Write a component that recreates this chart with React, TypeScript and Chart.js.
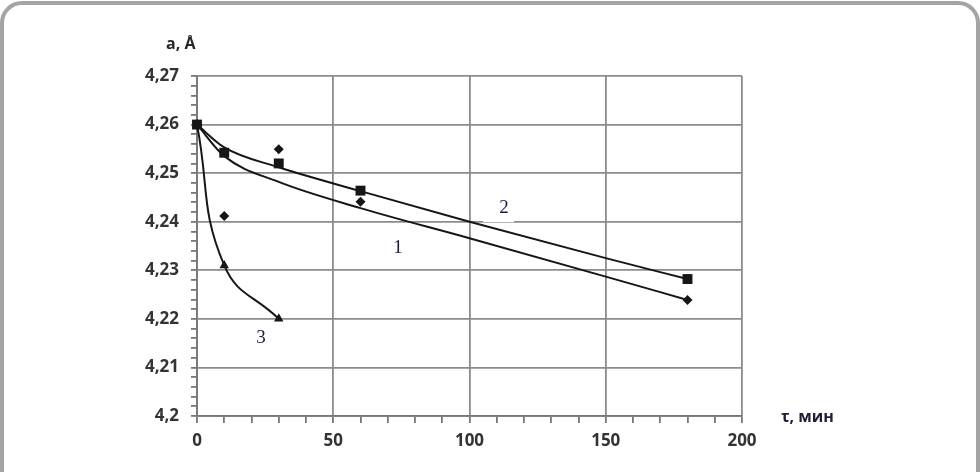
import React, { useEffect, useRef } from 'react';
import { Chart, registerables } from 'chart.js';
Chart.register(...registerables);

// Measured points (τ, min → a, Å)
const times = [0, 10, 30, 60, 180];
const series1 = [4.26, 4.2412, 4.2549, 4.2441, 4.2239]; // diamonds, curve 1
const series2 = [4.26, 4.2542, 4.252, 4.2464, 4.2282]; // squares, curve 2
const times3 = [0, 10, 30];
const series3 = [4.26, 4.231, 4.22]; // triangles, curve 3

// Fitted curves
const curveTimes = [0, 10, 30, 60, 100, 150, 180];
const curve1 = [4.26, 4.2535, 4.2482, 4.2428, 4.2366, 4.2287, 4.2239];
const curve2 = [4.26, 4.2553, 4.2512, 4.2463, 4.24, 4.2325, 4.2282];

// Axis ranges / ticks
const xMin = 0, xMax = 200, xMajor = 50, xMinor = 10;
const yMin = 4.2, yMax = 4.27, yMajor = 0.01, yMinor = 0.002;

// Curve number labels (data coordinates)
const curveLabels = [
  { text: '1', t: 73.8, v: 4.2346, box: false },
  { text: '2', t: 112.7, v: 4.2428, box: true },
  { text: '3', t: 23.5, v: 4.2161, box: false },
];

const GRID = '#8c8c8c';
const AXIS = '#777777';
const INK = '#161616';
const TICKFONT = { family: '"Open Sans", sans-serif', size: 17, weight: 'bold' as any };

const toXY = (xs: number[], ys: number[]) => xs.map((x, i) => ({ x, y: ys[i] }));

const labelPlugin = {
  id: 'curveLabels',
  beforeDatasetsDraw(chart: any) {
    const { ctx, scales } = chart;
    const x = scales.x, y = scales.y;
    ctx.save();
    ctx.font = '19px "Liberation Serif", "Times New Roman", serif';
    ctx.textAlign = 'center';
    ctx.textBaseline = 'middle';
    for (const l of curveLabels) {
      const px = x.getPixelForValue(l.t);
      const py = y.getPixelForValue(l.v);
      if (l.box) {
        ctx.fillStyle = '#ffffff';
        ctx.fillRect(px - 21, py - 11, 31, 25);
      }
      ctx.fillStyle = '#1c1c40';
      ctx.fillText(l.text, px, py);
    }
    ctx.restore();
  },
  afterDraw(chart: any) {
    const { ctx } = chart;
    ctx.save();
    ctx.fillStyle = '#262626';
    ctx.textBaseline = 'middle';
    ctx.textAlign = 'left';
    ctx.font = 'bold 16px "Open Sans", sans-serif';
    ctx.fillText('a, Å', 166, 44);
    ctx.fillStyle = '#1e1e3a';
    ctx.fillText('τ, мин', 781, 417);
    ctx.restore();
  },
};

export default function App() {
  const ref = useRef<HTMLCanvasElement>(null);
  useEffect(() => {
    const isMajorX = (v: number) => Math.abs(v / xMajor - Math.round(v / xMajor)) < 1e-6;
    const isMajorY = (v: number) => Math.abs(v / yMajor - Math.round(v / yMajor)) < 1e-6;
    const chart = new Chart(ref.current!, {
      type: 'scatter',
      data: {
        datasets: [
          {
            label: '1',
            data: toXY(times, series1),
            pointStyle: 'rectRot',
            pointRadius: 5,
            backgroundColor: INK,
            borderColor: INK,
            borderWidth: 0,
            showLine: false,
            clip: false,
          } as any,
          {
            label: '2',
            data: toXY(times, series2),
            pointStyle: 'rect',
            pointRadius: 7,
            backgroundColor: INK,
            borderColor: INK,
            borderWidth: 0,
            showLine: false,
            clip: false,
          } as any,
          {
            label: '3',
            data: toXY(times3, series3),
            pointStyle: 'triangle',
            pointRadius: 5.5,
            backgroundColor: INK,
            borderColor: INK,
            pointBorderWidth: 0,
            borderWidth: 2,
            showLine: true,
            tension: 0.45,
            clip: false,
          } as any,
          {
            label: 'curve1',
            data: toXY(curveTimes, curve1),
            showLine: true,
            pointRadius: 0,
            borderColor: INK,
            borderWidth: 2,
            cubicInterpolationMode: 'monotone',
          } as any,
          {
            label: 'curve2',
            data: toXY(curveTimes, curve2),
            showLine: true,
            pointRadius: 0,
            borderColor: INK,
            borderWidth: 2,
            cubicInterpolationMode: 'monotone',
          } as any,
        ],
      },
      options: {
        responsive: false,
        animation: false,
        devicePixelRatio: 1,
        layout: { padding: { left: 0, top: 76, right: 238, bottom: 0 } },
        plugins: { legend: { display: false }, tooltip: { enabled: false } },
        scales: {
          x: {
            type: 'linear',
            min: xMin,
            max: xMax,
            afterFit: (s: any) => { s.height = 56; },
            border: { color: AXIS, width: 1.8 },
            grid: {
              color: (c: any) => (c.tick && isMajorX(c.tick.value) ? GRID : 'rgba(0,0,0,0)'),
              tickColor: AXIS,
              lineWidth: 1.8,
              tickLength: 7,
              drawTicks: true,
            },
            ticks: {
              stepSize: xMinor,
              autoSkip: false,
              maxRotation: 0,
              padding: 8,
              color: '#333333',
              font: TICKFONT,
              callback: (v: any) => (isMajorX(Number(v)) ? String(v) : ''),
            },
          },
          y: {
            type: 'linear',
            min: yMin,
            max: yMax,
            afterFit: (s: any) => { s.width = 197; },
            border: { color: AXIS, width: 1.8 },
            grid: {
              color: (c: any) => (c.tick && isMajorY(c.tick.value) ? GRID : 'rgba(0,0,0,0)'),
              tickColor: AXIS,
              lineWidth: 1.8,
              tickLength: 6,
              drawTicks: true,
            },
            ticks: {
              stepSize: yMinor,
              autoSkip: false,
              padding: 12,
              color: '#333333',
              font: TICKFONT,
              callback: (v: any) => {
                const n = Number(v);
                if (!isMajorY(n)) return '';
                return String(Math.round(n * 100) / 100).replace('.', ',');
              },
            },
          },
        },
      },
      plugins: [labelPlugin],
    });
    return () => chart.destroy();
  }, []);

  return (
    <div style={{ position: 'fixed', left: 0, top: 0, width: 980, height: 472, overflow: 'hidden', background: '#fff' }}>
      <div
        style={{
          position: 'absolute',
          left: 0,
          top: 1,
          width: 980,
          height: 560,
          boxSizing: 'border-box',
          border: '4px solid #a4a4a4',
          borderRadius: 22,
        }}
      />
      <canvas ref={ref} width={980} height={472} style={{ position: 'absolute', left: 0, top: 0, width: 980, height: 472 }} />
    </div>
  );
}
